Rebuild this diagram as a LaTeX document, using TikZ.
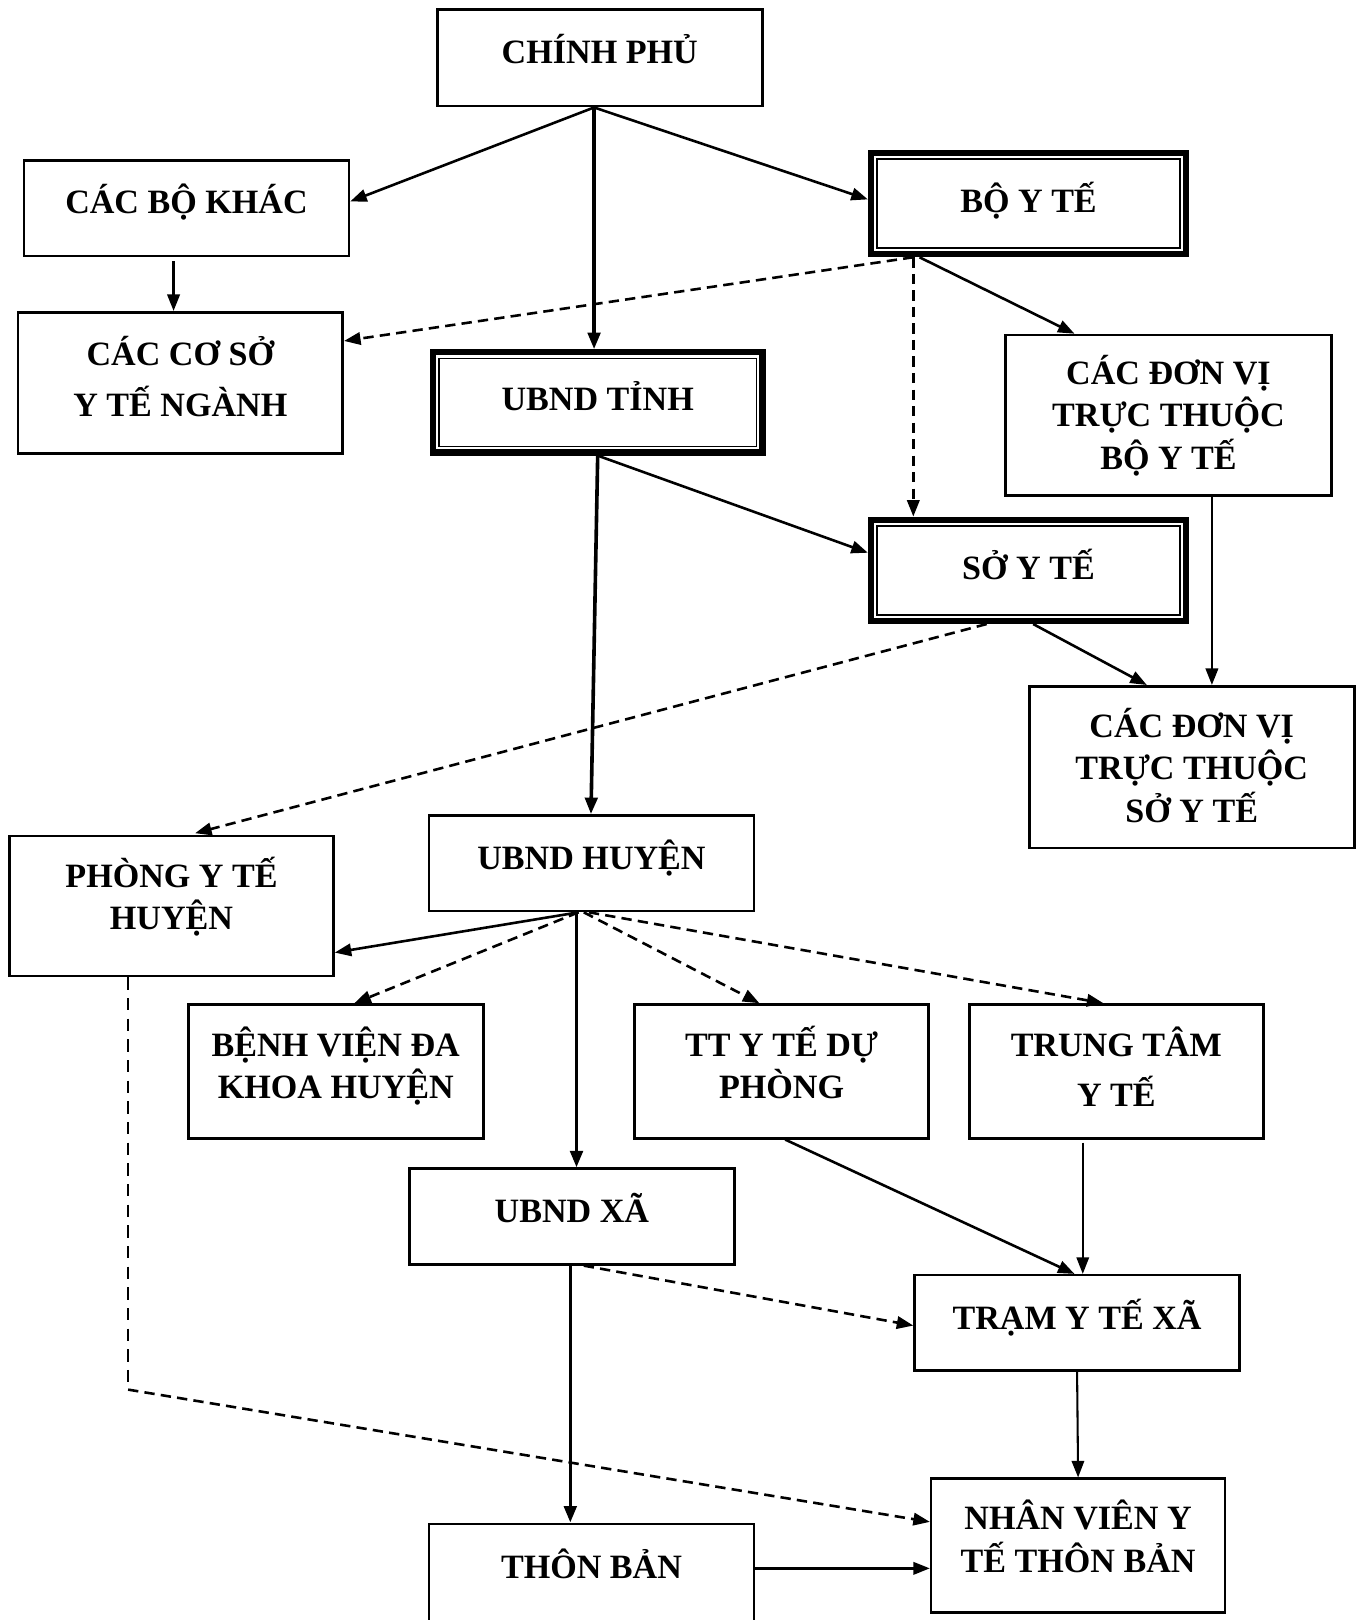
\documentclass[tikz,border=0pt]{standalone}
\usepackage{fontspec}
\setmainfont{Liberation Serif}
\usetikzlibrary{arrows.meta}
\newcommand\bt[2][0pt]{\raisebox{#1}[\height][\depth]{\begin{tabular}{@{}c@{}}#2\end{tabular}}}
\begin{document}
\begin{tikzpicture}[x=1pt,y=-1pt,
  box/.style={draw, line width=2.5pt, inner sep=0pt, align=center, font=\fontsize{33}{40}\selectfont\bfseries},
  dbox/.style={box, line width=6pt},
  arr/.style={-{Triangle[length=16pt,width=12pt]}, line width=2.5pt},
  darr/.style={arr, dash pattern=on 10pt off 6pt},
  tarr/.style={arr, line width=3.5pt},
  inner/.style={line width=1.5pt}
]
\useasboundingbox (0,0) rectangle (1316,1568);
\fill[white] (0,0) rectangle (1316,1568);

% boxes
\node[box, minimum width=314.5pt, minimum height=93.5pt] (cp) at (580.5,56) {\bt[3pt]{CHÍNH PHỦ}};
\node[box, minimum width=314.5pt, minimum height=92.5pt] (cbk) at (180.5,201.5) {\bt[3.5pt]{CÁC BỘ KHÁC}};
\node[dbox, minimum width=305pt, minimum height=98pt] (byt) at (995.5,197) {\bt{BỘ Y TẾ}};
\node[box, minimum width=314.5pt, minimum height=136.5pt] (ccs) at (174.5,370.5) {\bt{CÁC CƠ SỞ\\[8pt] Y TẾ NGÀNH}};
\node[dbox, minimum width=319pt, minimum height=97pt] (ubt) at (578.5,389.5) {\bt{UBND TỈNH}};
\node[box, minimum width=315.5pt, minimum height=155.5pt] (dvb) at (1131,402) {\bt[-3pt]{CÁC ĐƠN VỊ\\ TRỰC THUỘC\\ BỘ Y TẾ}};
\node[dbox, minimum width=305pt, minimum height=98pt] (syt) at (995.5,552) {\bt{SỞ Y TẾ}};
\node[box, minimum width=314.5pt, minimum height=156.5pt] (dvs) at (1153.5,742.5) {\bt[-4pt]{CÁC ĐƠN VỊ\\ TRỰC THUỘC\\ SỞ Y TẾ}};
\node[box, minimum width=313.5pt, minimum height=135.5pt] (phg) at (166,877) {\bt[6pt]{PHÒNG Y TẾ\\ HUYỆN}};
\node[box, minimum width=314.5pt, minimum height=92.5pt] (ubh) at (572.5,835.5) {\bt[2pt]{UBND HUYỆN}};
\node[box, minimum width=285.5pt, minimum height=129.5pt] (bv) at (325,1037) {\bt[2pt]{BỆNH VIỆN ĐA\\ KHOA HUYỆN}};
\node[box, minimum width=284.5pt, minimum height=129.5pt] (tt) at (756.5,1037) {\bt[3pt]{TT Y TẾ DỰ\\ PHÒNG}};
\node[box, minimum width=284.5pt, minimum height=129.5pt] (ttyt) at (1080.5,1037) {\bt[-1pt]{TRUNG TÂM\\[7pt] Y TẾ}};
\node[box, minimum width=314.5pt, minimum height=92.5pt] (ubx) at (553.5,1177.5) {\bt[2pt]{UBND XÃ}};
\node[box, minimum width=314.5pt, minimum height=92.5pt] (tram) at (1042.5,1280.5) {\bt[2pt]{TRẠM Y TẾ XÃ}};
\node[box, minimum width=284.5pt, minimum height=129.5pt] (nv) at (1043.5,1496) {\bt[3pt]{NHÂN VIÊN Y\\ TẾ THÔN BẢN}};
\node[box, minimum width=314.5pt, minimum height=100pt] (tb) at (572.5,1525) {\bt[5.5pt]{THÔN BẢN}};

% inner lines of the double boxes
\foreach \b in {byt,ubt,syt}{
  \draw[inner] ([xshift=9pt,yshift=-9pt]\b.north west) rectangle ([xshift=-9pt,yshift=9pt]\b.south east);
}

% connectors
\draw[arr] ([xshift=-5.5pt]cp.south) -- ([yshift=6.5pt]cbk.east);
\draw[tarr] ([xshift=-5.5pt]cp.south) -- ([xshift=-3.5pt]ubt.north);
\draw[arr] ([xshift=-5.5pt]cp.south) -- ([yshift=4pt]byt.west);
\draw[arr, shorten <=4pt] ([xshift=-12.5pt]cbk.south) -- ([xshift=-6.5pt]ccs.north);
\draw[darr] ([xshift=-111.5pt]byt.south) -- ([yshift=40.5pt]ccs.east);
\draw[darr] ([xshift=-111.5pt]byt.south) -- ([xshift=-111.5pt]syt.north);
\draw[arr] ([xshift=-105.5pt]byt.south) -- ([xshift=-91pt]dvb.north);
\draw[arr] (ubt.south) -- ([yshift=17pt]syt.west);
\draw[tarr] (ubt.south) -- ([xshift=-0.5pt]ubh.north);
\draw[arr] ([xshift=42pt]dvb.south) -- ([xshift=19.5pt]dvs.north);
\draw[arr] ([xshift=4.5pt]syt.south) -- ([xshift=-43.5pt]dvs.north);
\draw[darr, shorten >=6pt] ([xshift=-40.5pt]syt.south) -- ([xshift=17pt]phg.north);
\draw[arr] ([xshift=-12.5pt]ubh.south) -- ([yshift=-45pt]phg.east);
\draw[darr] ([xshift=-12.5pt]ubh.south) -- ([xshift=18pt]bv.north);
\draw[darr] ([xshift=-7.5pt]ubh.south) -- ([xshift=-21.5pt]tt.north);
\draw[darr] ([xshift=-2.5pt]ubh.south) -- ([xshift=-12.5pt]ttyt.north);
\draw[tarr] ([xshift=-14.5pt]ubh.south) -- ([xshift=4.5pt]ubx.north);
\draw[arr] ([xshift=3.5pt]tt.south) -- ([xshift=-2.5pt]tram.north);
\draw[arr, line width=2pt, shorten <=3pt] ([xshift=-32.5pt]ttyt.south) -- ([xshift=5.5pt]tram.north);
\draw[tarr] ([xshift=-1.5pt]ubx.south) -- ([xshift=-20.5pt]tb.north);
\draw[darr] ([xshift=11.5pt]ubx.south) -- ([yshift=-2.5pt]tram.west);
\coordinate (bend) at (124,1345);
\draw[line width=1.5pt, dash pattern=on 12pt off 8pt] ([xshift=-42pt]phg.south) -- (bend);
\draw[darr] (bend) -- ([yshift=23pt]nv.west);
\draw[arr, line width=2pt] (tram.south) -- (nv.north);
\draw[arr] ([yshift=7pt]tb.east) -- ([yshift=-22pt]nv.west);
\end{tikzpicture}
\end{document}
